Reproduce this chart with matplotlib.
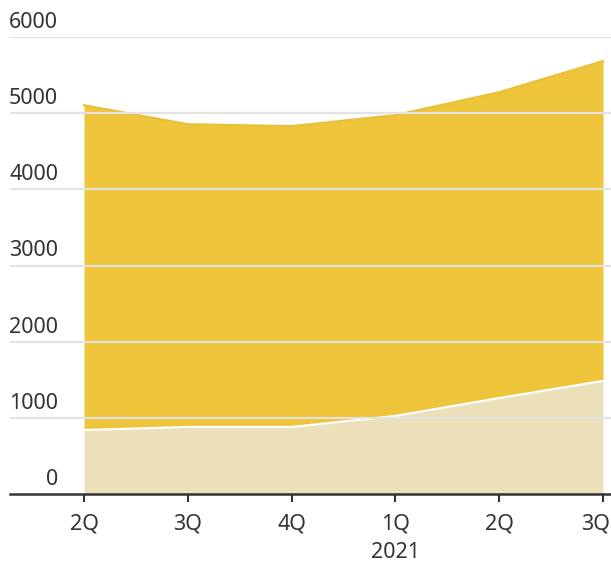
import matplotlib.pyplot as plt
import matplotlib.transforms as mtransforms

# data
quarters = ['2Q', '3Q', '4Q', '1Q', '2Q', '3Q']
year_labels = ['', '', '', '2021', '', '']
lower = [840, 880, 880, 1025, 1260, 1485]
total = [5105, 4855, 4830, 4975, 5275, 5685]
yticks = [0, 1000, 2000, 3000, 4000, 5000, 6000]

plt.rcParams['font.family'] = ['Noto Sans', 'DejaVu Sans']

txt = '#333333'
fig = plt.figure(figsize=(6.11, 5.65), dpi=100)
ax = fig.add_axes([10 / 611, 71 / 565, 601 / 611, 457 / 565])

x = list(range(len(quarters)))
ax.fill_between(x, 0, lower, color='#ece0ba', lw=0, zorder=1)
ax.fill_between(x, lower, total, color='#edc43a', lw=0, zorder=1)
ax.plot(x, total, color='#e8bf35', lw=1.5, zorder=2)
ax.plot(x, lower, color='white', lw=1.6, zorder=3)

for v in yticks[1:]:
    ax.axhline(v, color='#e3e3e3', lw=1.6, zorder=4)

off = mtransforms.offset_copy(ax.transData, fig=fig, x=0, y=4, units='dots')
for v in yticks:
    ax.text(-0.25, v, str(v), ha='right', va='bottom', fontsize=15.5,
            color=txt, transform=off, clip_on=False)

ax.set_xlim(-0.713, 5.077)
ax.set_ylim(0, 6000)
ax.set_xticks(x)
ax.set_xticklabels([q + ('\n' + y if y else '') for q, y in zip(quarters, year_labels)],
                   fontsize=15.5, color=txt, linespacing=1.5)
ax.tick_params(axis='x', length=6, width=1.5, color=txt, pad=8)
# last label sits a bit left of its tick so it fits
last = ax.get_xticklabels()[-1]
last.set_transform(last.get_transform() +
                   mtransforms.ScaledTranslation(-0.07, 0, fig.dpi_scale_trans))
ax.set_yticks([])
for s in ['top', 'right', 'left']:
    ax.spines[s].set_visible(False)
ax.spines['bottom'].set_color(txt)
ax.spines['bottom'].set_linewidth(1.8)
ax.spines['bottom'].set_zorder(5)

fig.savefig('out.png', dpi=100)
